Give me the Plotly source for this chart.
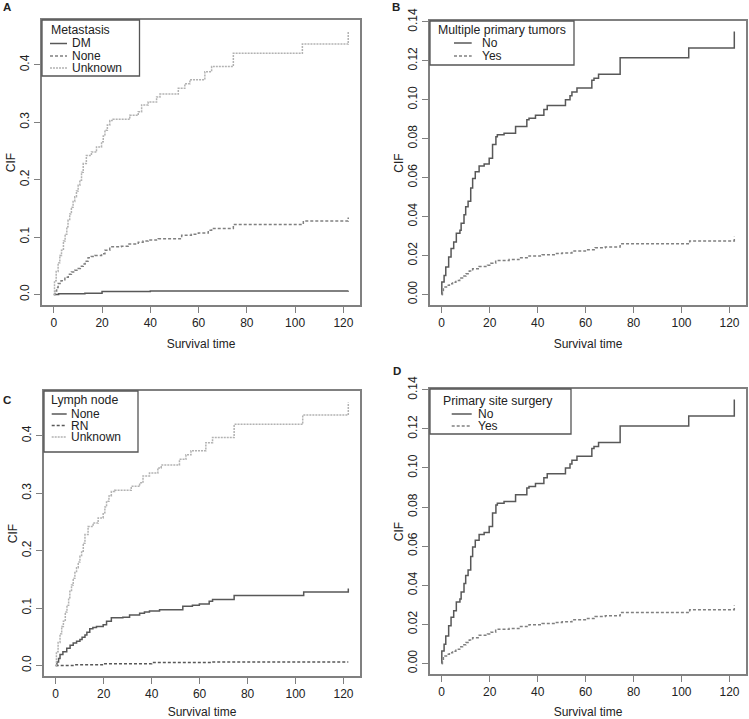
import plotly.graph_objects as go

W, H = 749, 719

# ---------------- data ----------------
# Panel A: Metastasis
met_unknown_time = [0, 0.3, 1.0, 1.8, 2.5, 3.2, 4.0, 4.7, 5.4, 5.9, 6.6, 7.3, 8.0, 8.7, 9.4, 10.1, 10.8, 11.5,
                    12.2, 13.5, 15.6, 17.7, 19.8, 20.5, 21.2, 22.2, 23.2, 24.6, 31.5, 35.0, 36.4, 39.1, 42.6,
                    44.0, 51.6, 54.3, 56.4, 62.6, 65.4, 74.4, 103.0, 122.0]
met_unknown_cif = [0, 0.024, 0.040, 0.055, 0.068, 0.077, 0.093, 0.105, 0.118, 0.129, 0.140, 0.152, 0.162, 0.170,
                   0.180, 0.190, 0.199, 0.213, 0.228, 0.242, 0.248, 0.257, 0.266, 0.276, 0.286, 0.295, 0.303,
                   0.305, 0.312, 0.318, 0.330, 0.335, 0.344, 0.349, 0.359, 0.367, 0.374, 0.388, 0.397, 0.420,
                   0.436, 0.458]
met_none_time = [0, 0.5, 1.2, 1.8, 3.0, 4.6, 6.0, 7.3, 8.7, 10.1, 11.0, 12.2, 13.0, 14.2, 15.5, 17.0, 19.8,
                 21.2, 23.2, 28.0, 30.8, 35.0, 37.0, 39.1, 43.3, 53.0, 57.0, 59.9, 64.0, 65.4, 74.4, 103.4, 122.0]
met_none_cif = [0, 0.006, 0.012, 0.019, 0.024, 0.030, 0.035, 0.039, 0.042, 0.045, 0.049, 0.053, 0.058, 0.064,
                0.066, 0.068, 0.071, 0.077, 0.083, 0.084, 0.088, 0.091, 0.093, 0.095, 0.097, 0.103, 0.105,
                0.107, 0.112, 0.115, 0.122, 0.128, 0.134]
met_dm_time = [0, 2.0, 12.9, 20.0, 40.0, 122.0]
met_dm_cif = [0, 0.001, 0.002, 0.005, 0.006, 0.0065]

# Panel B: Multiple primary tumors
mpt_no_time = [0, 0.05, 1.0, 1.7, 2.9, 3.9, 5.0, 6.1, 7.6, 8.1, 9.3, 10.0, 11.0, 12.1, 12.9, 14.0, 15.6, 17.7,
               19.8, 21.2, 22.6, 23.2, 26.0, 30.8, 35.5, 36.4, 39.1, 42.6, 44.0, 51.6, 53.5, 54.3, 56.4, 62.6,
               63.5, 65.4, 74.4, 103.0, 122.0]
mpt_no_cif = [0, 0.0064, 0.0098, 0.0141, 0.0193, 0.0236, 0.0270, 0.0314, 0.0330, 0.0366, 0.0409, 0.0450,
              0.0478, 0.0547, 0.0596, 0.0630, 0.0660, 0.0670, 0.0700, 0.0770, 0.0810, 0.0820, 0.0828, 0.0863,
              0.0897, 0.0905, 0.0920, 0.0950, 0.0970, 0.1000, 0.1020, 0.1040, 0.1060, 0.1100, 0.1110, 0.1130,
              0.1215, 0.1266, 0.1350]
mpt_yes_time = [0, 0.3, 0.7, 2.0, 3.2, 4.5, 5.9, 7.5, 8.7, 10.1, 11.5, 12.9, 15.6, 19.1, 20.5, 22.5, 28.1, 32.2,
                36.4, 41.9, 47.4, 50.2, 54.3, 59.9, 64.0, 68.2, 74.4, 103.4, 122.0]
mpt_yes_cif = [0, 0.0015, 0.0038, 0.0047, 0.0055, 0.0063, 0.0072, 0.0085, 0.0095, 0.0107, 0.0120, 0.0132,
               0.0144, 0.0150, 0.0160, 0.0175, 0.0179, 0.0189, 0.0198, 0.0204, 0.0210, 0.0213, 0.0223,
               0.0230, 0.0240, 0.0244, 0.0260, 0.0275, 0.0296]

# Panel C: Lymph node
ln_unknown_time = [0, 0.3, 1.0, 1.8, 2.5, 3.2, 4.0, 4.7, 5.4, 5.9, 6.6, 7.3, 8.0, 8.7, 9.4, 10.1, 10.8, 11.5,
                   12.2, 13.5, 15.6, 17.7, 19.8, 20.5, 21.2, 22.2, 23.2, 24.6, 31.5, 35.0, 36.4, 39.1, 42.6,
                   44.0, 51.6, 54.3, 56.4, 62.6, 65.4, 74.4, 103.0, 122.0]
ln_unknown_cif = [0, 0.024, 0.040, 0.055, 0.068, 0.077, 0.093, 0.105, 0.118, 0.129, 0.140, 0.152, 0.162, 0.170,
                  0.180, 0.190, 0.199, 0.213, 0.228, 0.242, 0.248, 0.257, 0.266, 0.276, 0.286, 0.295, 0.303,
                  0.305, 0.312, 0.318, 0.330, 0.335, 0.344, 0.349, 0.359, 0.367, 0.374, 0.388, 0.397, 0.420,
                  0.436, 0.458]
ln_none_time = [0, 0.5, 1.2, 1.8, 3.0, 4.6, 6.0, 7.3, 8.7, 10.1, 11.0, 12.2, 13.0, 14.2, 15.5, 17.0, 19.8,
                21.2, 23.2, 28.0, 30.8, 35.0, 37.0, 39.1, 43.3, 53.0, 57.0, 59.9, 64.0, 65.4, 74.4, 103.4, 122.0]
ln_none_cif = [0, 0.006, 0.012, 0.019, 0.024, 0.030, 0.035, 0.039, 0.042, 0.045, 0.049, 0.053, 0.058, 0.064,
               0.066, 0.068, 0.071, 0.077, 0.083, 0.084, 0.088, 0.091, 0.093, 0.095, 0.097, 0.103, 0.105,
               0.107, 0.112, 0.115, 0.122, 0.128, 0.134]
ln_rn_time = [0, 8.0, 20.0, 40.0, 65.0, 122.0]
ln_rn_cif = [0, 0.001, 0.003, 0.005, 0.006, 0.006]

# Panel D: Primary site surgery
surg_no_time = [0, 0.05, 1.0, 1.7, 2.9, 3.9, 5.0, 6.1, 7.6, 8.1, 9.3, 10.0, 11.0, 12.1, 12.9, 14.0, 15.6, 17.7,
                19.8, 21.2, 22.6, 23.2, 26.0, 30.8, 35.5, 36.4, 39.1, 42.6, 44.0, 51.6, 53.5, 54.3, 56.4, 62.6,
                63.5, 65.4, 74.4, 103.0, 122.0]
surg_no_cif = [0, 0.0064, 0.0098, 0.0141, 0.0193, 0.0236, 0.0270, 0.0314, 0.0330, 0.0366, 0.0409, 0.0450,
               0.0478, 0.0547, 0.0596, 0.0630, 0.0660, 0.0670, 0.0700, 0.0770, 0.0810, 0.0820, 0.0828, 0.0863,
               0.0897, 0.0905, 0.0920, 0.0950, 0.0970, 0.1000, 0.1020, 0.1040, 0.1060, 0.1100, 0.1110, 0.1130,
               0.1215, 0.1266, 0.1350]
surg_yes_time = [0, 0.3, 0.7, 2.0, 3.2, 4.5, 5.9, 7.5, 8.7, 10.1, 11.5, 12.9, 15.6, 19.1, 20.5, 22.5, 28.1, 32.2,
                 36.4, 41.9, 47.4, 50.2, 54.3, 59.9, 64.0, 68.2, 74.4, 103.4, 122.0]
surg_yes_cif = [0, 0.0015, 0.0038, 0.0047, 0.0055, 0.0063, 0.0072, 0.0085, 0.0095, 0.0107, 0.0120, 0.0132,
                0.0144, 0.0150, 0.0160, 0.0175, 0.0179, 0.0189, 0.0198, 0.0204, 0.0210, 0.0213, 0.0223,
                0.0230, 0.0240, 0.0244, 0.0260, 0.0275, 0.0296]

x_ticks = [0, 20, 40, 60, 80, 100, 120]
y_ticks_wide = [0.0, 0.1, 0.2, 0.3, 0.4]
y_ticks_narrow = [0.00, 0.02, 0.04, 0.06, 0.08, 0.10, 0.12, 0.14]

panel_letters = ["A", "B", "C", "D"]
legend_titles = ["Metastasis", "Multiple primary tumors", "Lymph node", "Primary site surgery"]
met_labels = ["DM", "None", "Unknown"]
mpt_labels = ["No", "Yes"]
ln_labels = ["None", "RN", "Unknown"]
surg_labels = ["No", "Yes"]

# ---------------- style ----------------
FONT = "Liberation Sans, Arial, sans-serif"
TXT = "#222222"
AXC = "#808080"
DARK = "#585858"
MID = "#808080"
LIGHT = "#b2b2b2"
DASH = "3px,2px"
DOT = "2px,1px"


def px(x):
    return x / W


def py(y):
    return 1 - y / H


fig = go.Figure()


def add_curve(t, c, name, color, dash, n):
    fig.add_trace(go.Scatter(
        x=t, y=c, mode="lines", name=name, showlegend=False,
        line=dict(shape="hv", color=color, dash=dash, width=1.5),
        xaxis="x" if n == 1 else f"x{n}", yaxis="y" if n == 1 else f"y{n}"))


add_curve(met_dm_time, met_dm_cif, "DM", DARK, "solid", 1)
add_curve(met_none_time, met_none_cif, "None", MID, DASH, 1)
add_curve(met_unknown_time, met_unknown_cif, "Unknown", LIGHT, DOT, 1)

add_curve(mpt_no_time, mpt_no_cif, "No", DARK, "solid", 2)
add_curve(mpt_yes_time, mpt_yes_cif, "Yes", MID, DASH, 2)

add_curve(ln_none_time, ln_none_cif, "None", DARK, "solid", 3)
add_curve(ln_rn_time, ln_rn_cif, "RN", DARK, DASH, 3)
add_curve(ln_unknown_time, ln_unknown_cif, "Unknown", LIGHT, DOT, 3)

add_curve(surg_no_time, surg_no_cif, "No", DARK, "solid", 4)
add_curve(surg_yes_time, surg_yes_cif, "Yes", MID, DASH, 4)

# panel boxes in pixels: (left, top, right, bottom)
boxes = [(42, 20, 360, 305), (430, 21, 746, 305), (44, 391, 360, 676), (430, 389, 746, 674)]
yranges = [(-0.0184, 0.478), (-0.0054, 0.1404), (-0.0184, 0.478), (-0.0054, 0.1404)]
yticks = [y_ticks_wide, y_ticks_narrow, y_ticks_wide, y_ticks_narrow]
yfmt = [".1f", ".2f", ".1f", ".2f"]

layout = dict(
    width=W, height=H, margin=dict(l=0, r=0, t=0, b=0),
    paper_bgcolor="white", plot_bgcolor="white",
    font=dict(family=FONT, size=12, color=TXT),
    showlegend=False,
)
for i, (l, t, r, b) in enumerate(boxes):
    n = i + 1
    sx = "" if n == 1 else str(n)
    common = dict(showline=True, mirror=True, linecolor=AXC, linewidth=1.5,
                  ticks="outside", ticklen=6, tickwidth=1.2, tickcolor=AXC,
                  showgrid=False, zeroline=False, automargin=False,
                  tickfont=dict(family=FONT, size=12, color=TXT))
    layout["xaxis" + sx] = dict(
        domain=[px(l), px(r)], anchor="y" + sx, range=[-4.88, 126.88],
        tickvals=x_ticks, title=dict(text="Survival time", standoff=10,
                                     font=dict(family=FONT, size=12, color=TXT)),
        **common)
    layout["yaxis" + sx] = dict(
        domain=[py(b), py(t)], anchor="x" + sx, range=list(yranges[i]),
        tickvals=yticks[i], tickformat=yfmt[i], tickangle=-90,
        title=dict(text="CIF", standoff=0, font=dict(family=FONT, size=12, color=TXT)),
        **common)
fig.update_layout(**layout)

# panel letters
letter_pos = [(6.5, 6.7), (395.5, 6.7), (6.5, 400.3), (397, 370.5)]
for letter, (x, y) in zip(panel_letters, letter_pos):
    fig.add_annotation(x=px(x), y=py(y), xref="paper", yref="paper", text=f"<b>{letter}</b>",
                       showarrow=False, xanchor="center", yanchor="middle",
                       font=dict(family=FONT, size=11.5, color=TXT))

# manual legends (R style)
legends = [
    dict(box=(42, 20, 139.5, 76), title=legend_titles[0], tx=50, ty=30,
         rows=[43.5, 56, 68], sx=(50, 67), lx=71,
         items=list(zip(met_labels, [DARK, MID, LIGHT], ["solid", DASH, DOT]))),
    dict(box=(430, 21, 574, 65), title=legend_titles[1], tx=436.7, ty=30,
         rows=[43, 56], sx=(454, 471.7), lx=481,
         items=list(zip(mpt_labels, [DARK, MID], ["solid", DASH]))),
    dict(box=(44, 391, 138, 452), title=legend_titles[2], tx=50, ty=400,
         rows=[414, 425.5, 437], sx=(51.7, 66.7), lx=70,
         items=list(zip(ln_labels, [DARK, DARK, LIGHT], ["solid", DASH, DOT]))),
    dict(box=(430, 389, 571, 434), title=legend_titles[3], tx=441.7, ty=400.7,
         rows=[414, 426], sx=(451.7, 471.7), lx=476.7,
         items=list(zip(surg_labels, [DARK, MID], ["solid", DASH]))),
]
for lg in legends:
    l, t, r, b = lg["box"]
    fig.add_shape(type="rect", xref="paper", yref="paper", x0=px(l), x1=px(r), y0=py(b), y1=py(t),
                  line=dict(color="#555555", width=1.3), fillcolor="white", layer="above")
    fig.add_annotation(x=px(lg["tx"]), y=py(lg["ty"]), xref="paper", yref="paper", text=lg["title"],
                       showarrow=False, xanchor="left", yanchor="middle", borderpad=0,
                       font=dict(family=FONT, size=12.3, color=TXT))
    for (lab, col, dash), ry in zip(lg["items"], lg["rows"]):
        fig.add_shape(type="line", xref="paper", yref="paper", x0=px(lg["sx"][0]), x1=px(lg["sx"][1]),
                      y0=py(ry), y1=py(ry), line=dict(color=col, width=1.5, dash=dash), layer="above")
        fig.add_annotation(x=px(lg["lx"]), y=py(ry), xref="paper", yref="paper", text=lab,
                           showarrow=False, xanchor="left", yanchor="middle", borderpad=0,
                           font=dict(family=FONT, size=12, color=TXT))

fig.write_html("out.html", config={"displayModeBar": False},
               post_script="document.body.style.margin='0px';")
